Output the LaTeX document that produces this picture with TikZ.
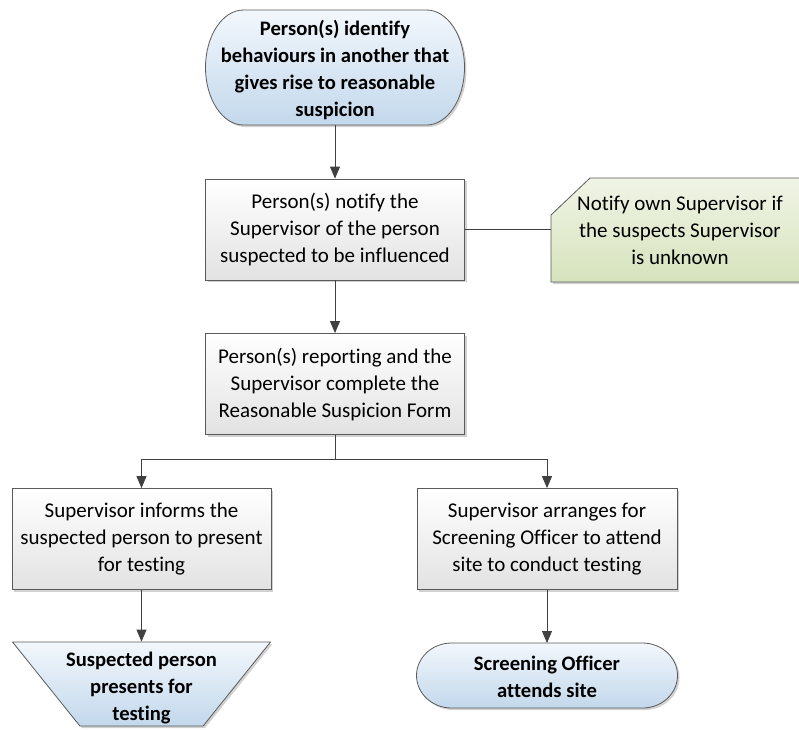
\documentclass[tikz,border=0pt]{standalone}
\usepackage{fontspec}
\setmainfont{Carlito}[Ligatures=NoCommon]
\usetikzlibrary{arrows.meta,shapes.geometric,shadows}
\definecolor{edge}{HTML}{5A5A5A}
\definecolor{conn}{HTML}{404040}
\definecolor{bluetop}{HTML}{F2F7FC}
\definecolor{bluebot}{HTML}{C3D8EC}
\definecolor{graytop}{HTML}{FFFFFF}
\definecolor{graybot}{HTML}{E2E2E2}
\definecolor{greentop}{HTML}{F0F4E6}
\definecolor{greenbot}{HTML}{D6E3BC}
\tikzset{
  x=1pt,y=-1pt,
  txt/.style={font=\fontsize{21}{27}\selectfont, align=center, text=black},
  boldtxt/.style={font=\fontsize{20.6}{27}\selectfont\bfseries, align=center, text=black},
  shad/.style={drop shadow={shadow xshift=2pt,shadow yshift=-2pt,fill=black,opacity=0.18}},
  procbox/.style={txt, draw=edge, line width=0.8pt, top color=graytop, bottom color=graybot, minimum width=259pt, minimum height=101pt, inner sep=0pt, shad},
  termbox/.style={boldtxt, draw=edge, line width=0.8pt, top color=bluetop, bottom color=bluebot, inner sep=0pt, shad},
  termfill/.style={draw=edge, line width=0.8pt, top color=bluetop, bottom color=bluebot, shad},
  notefill/.style={draw=edge, line width=0.8pt, top color=greentop, bottom color=greenbot, shad},
  frame/.style={inner sep=0pt, outer sep=0pt},
  flow/.style={draw=conn, line width=0.8pt, -{Triangle[length=12pt,width=10pt]}},
  link/.style={draw=conn, line width=0.8pt}
}
\begin{document}
\begin{tikzpicture}
\useasboundingbox (0,0) rectangle (799,729);
% start terminator (elliptical ends)
\node[frame, minimum width=259pt, minimum height=115pt] (start) at (335,67.5) {};
\path[termfill] (426.5,10) arc[start angle=90, end angle=-90, x radius=38pt, y radius=57.5pt]
  -- (243.5,125) arc[start angle=270, end angle=90, x radius=38pt, y radius=57.5pt] -- cycle;
\node[boldtxt] (starttext) at (335,70)
  {Person(s) identify\\behaviours in another that\\gives rise to reasonable\\suspicion};
\node[procbox] (notify) at (335,229.5)
  {Person(s) notify the\\Supervisor of the person\\suspected to be influenced};
% note with cut corner
\node[frame, minimum width=258pt, minimum height=104pt] (note) at (680,230) {};
\path[notefill] (note.west |- 0,215) -- (590,178) -- (note.north east) -- (note.south east) -- (note.south west) -- cycle;
\node[txt] (notetext) at (note.center) {Notify own Supervisor if\\the suspects Supervisor\\is unknown};
\node[procbox] (form) at (335,384)
  {Person(s) reporting and the\\Supervisor complete the\\Reasonable Suspicion Form};
\node[procbox] (inform) at (141.5,539)
  {Supervisor informs the\\suspected person to present\\for testing};
\node[procbox, minimum width=260pt] (arrange) at (547,539)
  {Supervisor arranges for\\Screening Officer to attend\\site to conduct testing};
\node[termbox, trapezium, shape border rotate=180, trapezium stretches=true,
  trapezium left angle=65.1, trapezium right angle=65.1,
  minimum width=258pt, minimum height=84pt] (present) at (141.5,684) {\phantom{X}};
\node[boldtxt] (presenttext) at (141.5,688) {Suspected person\\presents for\\testing};
% end terminator
\node[frame, minimum width=261pt, minimum height=65pt] (attend) at (547,675.5) {};
\path[termfill] (642.5,643) arc[start angle=90, end angle=-90, x radius=35pt, y radius=32.5pt]
  -- (451.5,708) arc[start angle=270, end angle=90, x radius=35pt, y radius=32.5pt] -- cycle;
\node[boldtxt] (attendtext) at (547,677)
  {Screening Officer\\attends site};
\coordinate (split) at (335,459);
\coordinate (splitL) at (inform.north |- split);
\coordinate (splitR) at (arrange.north |- split);
\draw[flow] (start.south) -- (notify.north);
\draw[link] (notify.east) -- (note.west |- notify.east);
\draw[flow] (notify) -- (form);
\draw[link] (form.south) -- (split);
\draw[link] (splitL) -- (splitR);
\draw[flow] (splitL) -- (inform.north);
\draw[flow] (splitR) -- (arrange.north);
\draw[flow] (inform.south) -- (present.north);
\draw[flow] (arrange.south) -- (attend.north);
\end{tikzpicture}
\end{document}
